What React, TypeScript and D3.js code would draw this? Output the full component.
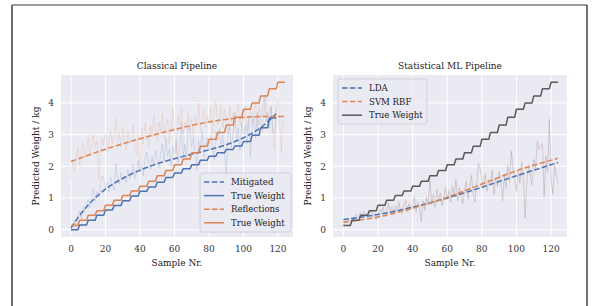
import React from 'react';
import * as d3 from 'd3';

// x tick labels and y tick labels shared by both panels
const xTicks = [0, 20, 40, 60, 80, 100, 120];
const yTicks = [0, 1, 2, 3, 4];

// true weight staircases, one level per block of 5 samples
const blueTrueLevels = [0, 0.15, 0.3, 0.46, 0.62, 0.76, 0.91, 1.06, 1.21, 1.35, 1.5, 1.65, 1.79, 1.92, 2.05, 2.19, 2.32, 2.43, 2.53, 2.64, 2.78, 2.98, 3.22, 3.52];
const orangeTrueLevels = [0.13, 0.3, 0.46, 0.6, 0.77, 0.93, 1.08, 1.22, 1.37, 1.53, 1.7, 1.87, 2.05, 2.23, 2.43, 2.63, 2.85, 3.07, 3.3, 3.55, 3.8, 4.0, 4.22, 4.45, 4.65];

// raw predictions (faint lines)
const mitigatedRaw = [
  0.0, 0.15, 0.3, 0.1, 0.45, 0.6, 0.35, 0.7, 0.55, 0.8,
  0.95, 0.7, 1.05, 1.3, 0.9, 1.2, 1.0, 1.45, 1.7, 1.6,
  1.3, 1.5, 1.2, 1.65, 1.4, 1.25, 2.1, 1.6, 1.45, 1.8,
  1.55, 1.7, 1.5, 1.9, 1.6, 1.75, 2.05, 1.6, 1.85, 2.2,
  1.8, 2.0, 1.7, 2.3, 2.45, 2.1, 1.9, 2.3, 2.05, 2.5,
  2.2, 1.95, 2.4, 2.7, 2.15, 2.9, 2.3, 2.55, 2.0, 2.6,
  2.4, 2.8, 2.1, 2.5, 3.4, 2.3, 2.7, 2.2, 3.3, 3.1,
  2.6, 2.9, 2.4, 1.9, 2.8, 2.5, 3.1, 2.3, 2.7, 2.9,
  2.5, 3.0, 2.6, 2.2, 3.1, 2.8, 3.2, 2.7, 3.0, 2.4,
  1.7, 2.9, 3.3, 2.6, 3.1, 3.7, 2.8, 3.2, 2.5, 3.4,
  3.0, 3.3, 2.7, 3.5, 2.3, 3.2, 3.6, 2.9, 3.7, 3.3,
  3.5, 3.8, 4.2, 3.4, 3.7, 3.2, 3.9, 3.1, 3.0, 3.9,
];
const reflectionsRaw = [
  1.6, 2.2, 1.85, 2.3, 2.6, 2.05, 2.4, 2.75, 2.25, 2.5,
  2.9, 2.35, 2.75, 3.0, 2.6, 2.8, 1.55, 2.5, 2.9, 2.65,
  3.0, 2.45, 2.8, 3.1, 2.7, 2.95, 3.5, 2.75, 3.05, 2.6,
  3.2, 2.85, 2.5, 3.1, 2.7, 2.95, 3.3, 2.6, 2.4, 3.0,
  1.9, 3.2, 2.7, 3.4, 3.0, 2.6, 3.3, 2.9, 3.6, 3.1,
  2.8, 3.4, 3.05, 3.7, 2.9, 3.3, 3.5, 2.7, 3.2, 3.8,
  3.1, 2.4, 3.6, 3.3, 3.9, 3.0, 3.4, 3.2, 3.7, 3.1,
  3.5, 2.9, 3.6, 3.3, 4.0, 3.1, 3.5, 3.8, 3.2, 3.6,
  3.4, 3.9, 3.0, 3.7, 4.05, 3.3, 3.6, 3.9, 3.2, 3.8,
  3.5, 3.0, 3.9, 3.4, 3.7, 3.2, 3.6, 3.95, 3.3, 3.7,
  3.4, 3.9, 3.1, 3.6, 3.8, 3.3, 3.7, 4.0, 3.2, 3.9,
  3.5, 3.1, 3.8, 4.2, 3.4, 3.7, 3.9, 3.0, 2.5, 3.6,
  4.15, 3.3, 2.45, 3.5, 3.6,
];
const ldaRaw = [
  0.15, 0.3, 0.2, 0.35, 0.25, 0.4, 0.3, 0.5, 0.35, 0.45,
  0.55, 0.4, 0.6, 0.45, 0.35, 0.5, 0.6, 0.4, 0.55, 0.3,
  0.45, 0.65, 0.5, 0.7, 0.4, 0.55, 0.85, 0.5, 0.7, 0.45,
  0.75, 0.55, 0.85, 0.6, 0.5, 0.75, 0.9, 0.55, 0.8, 0.65,
  0.7, 1.05, 0.55, 0.85, 0.7, 0.25, 0.9, 0.6, 1.0, 0.75,
  1.6, 0.8, 1.1, 0.7, 1.25, 0.9, 1.15, 0.75, 1.0, 1.3,
  0.95, 1.2, 0.85, 1.35, 1.05, 1.55, 0.9, 1.3, 1.1, 0.8,
  1.25, 1.5, 0.95, 1.3, 1.7, 1.1, 0.85, 1.4, 2.1, 1.9,
  1.6, 1.3, 1.75, 1.2, 1.55, 1.4, 1.85, 1.1, 1.6, 1.35,
  1.8, 1.5, 0.9, 1.7, 1.3, 2.0, 1.5, 2.5, 1.9, 1.6,
  1.2, 1.8, 1.45, 2.1, 1.6, 0.35, 1.5, 2.0, 1.7, 1.4,
  2.2, 1.9, 2.8, 2.5, 2.6, 2.7, 1.0, 2.3, 1.8, 3.5,
  1.6, 1.1, 2.0, 1.7, 1.45,
];
const svmRaw = [
  0.1, 0.25, 0.22, 0.3, 0.3, 0.35, 0.35, 0.45, 0.4, 0.5,
  0.5, 0.45, 0.55, 0.5, 0.4, 0.45, 0.65, 0.45, 0.5, 0.35,
  0.5, 0.6, 0.55, 0.75, 0.45, 0.6, 0.8, 0.55, 0.75, 0.5,
  0.7, 0.6, 0.9, 0.65, 0.55, 0.8, 0.95, 0.6, 0.85, 0.7,
  0.75, 1.0, 0.6, 0.9, 0.75, 0.3, 0.95, 0.65, 1.05, 0.8,
  1.55, 0.85, 1.15, 0.75, 1.3, 0.95, 1.2, 0.8, 1.05, 1.35,
  1.0, 1.25, 0.9, 1.4, 1.1, 1.6, 0.95, 1.35, 1.15, 0.85,
  1.3, 1.55, 1.0, 1.35, 1.75, 1.15, 0.9, 1.45, 2.05, 1.95,
  1.65, 1.35, 1.8, 1.25, 1.6, 1.45, 1.9, 1.15, 1.65, 1.4,
  1.85, 1.55, 0.95, 1.75, 1.35, 2.05, 1.55, 2.45, 1.95, 1.65,
  1.25, 1.85, 1.5, 2.15, 1.65, 0.4, 1.55, 2.05, 1.75, 1.45,
  2.25, 1.95, 2.75, 2.55, 2.65, 2.75, 1.1, 2.35, 1.85, 3.45,
  1.65, 1.15, 2.05, 1.75, 1.5,
];

// fitted trends (dashed), given at sample positions
const mitigatedFitX = [0, 5, 10, 20, 30, 40, 50, 60, 70, 80, 90, 100, 110, 119];
const mitigatedFit = [0.05, 0.45, 0.78, 1.28, 1.62, 1.88, 2.08, 2.24, 2.38, 2.52, 2.68, 2.9, 3.22, 3.66];
const reflectionsFitX = [0, 10, 20, 30, 40, 50, 60, 70, 80, 90, 100, 110, 124];
const reflectionsFit = [2.15, 2.35, 2.54, 2.71, 2.87, 3.02, 3.16, 3.29, 3.4, 3.48, 3.54, 3.57, 3.57];
const mlFitX = [0, 20, 40, 60, 80, 100, 124];
const ldaFit = [0.32, 0.48, 0.71, 1.0, 1.34, 1.7, 2.12];
const svmFit = [0.24, 0.4, 0.68, 1.02, 1.44, 1.86, 2.25];

const BLUE = '#4c72b0';
const ORANGE = '#dd8452';
const GRAY = '#595959';
const FONT = "'DejaVu Serif', 'Liberation Serif', serif";

const expand = (levels: number[]) => levels.flatMap(v => [v, v, v, v, v]);
const pts = (ys: number[]) => ys.map((y, i) => [i, y] as [number, number]);
const zipPts = (xs: number[], ys: number[]) => xs.map((x, i) => [x, ys[i]] as [number, number]);

type Series = {
  points: [number, number][];
  color: string;
  dashed?: boolean;
  faint?: boolean;
  smooth?: boolean;
};

type LegendItem = { label: string; color: string; dashed?: boolean };

const Panel = ({ left, right, title, xDomain, series, legend, legendBox }: {
  left: number; right: number; title: string; xDomain: [number, number];
  series: Series[]; legend: LegendItem[]; legendBox: { x: number; y: number; w: number; h: number };
}) => {
  const top = 75;
  const bottom = 237;
  const x = d3.scaleLinear().domain(xDomain).range([left, right]);
  const y = d3.scaleLinear().domain([-0.23, 4.88]).range([bottom, top]);

  return (
    <g>
      <rect x={left} y={top} width={right - left} height={bottom - top} fill="#eaeaf2" />
      {xTicks.map(t => (
        <line key={'gx' + t} x1={x(t)} x2={x(t)} y1={top} y2={bottom} stroke="#fff" strokeWidth={1} />
      ))}
      {yTicks.map(t => (
        <line key={'gy' + t} x1={left} x2={right} y1={y(t)} y2={y(t)} stroke="#fff" strokeWidth={1} />
      ))}
      {series.map((s, i) => {
        const gen = d3.line<[number, number]>().x(d => x(d[0])).y(d => y(d[1]));
        if (s.smooth) gen.curve(d3.curveMonotoneX);
        return (
          <path key={i} d={gen(s.points) || ''} fill="none" stroke={s.color}
            strokeWidth={s.faint ? 1 : 1.5}
            strokeOpacity={s.faint ? 0.17 : 1}
            strokeDasharray={s.dashed ? '5.5,2.4' : undefined}
            strokeLinejoin="round" />
        );
      })}
      {xTicks.map(t => (
        <text key={'tx' + t} x={x(t)} y={252} textAnchor="middle" fontSize={9} fill="#333">{t}</text>
      ))}
      {yTicks.map(t => (
        <text key={'ty' + t} x={left - 7} y={y(t) + 3.3} textAnchor="end" fontSize={9} fill="#333">{t}</text>
      ))}
      <text x={(left + right) / 2} y={69} textAnchor="middle" fontSize={9} fill="#222">{title}</text>
      <text x={(left + right) / 2} y={266} textAnchor="middle" fontSize={9} fill="#222">Sample Nr.</text>
      <text transform={`translate(${left - 22},${(top + bottom) / 2}) rotate(-90)`} textAnchor="middle"
        fontSize={9} fill="#222">Predicted Weight / kg</text>
      <rect x={legendBox.x} y={legendBox.y} width={legendBox.w} height={legendBox.h} rx={2.5}
        fill="#eaeaf2" fillOpacity={0.8} stroke="#cccccc" strokeWidth={0.8} />
      {legend.map((l, i) => {
        const ly = legendBox.y + 9 + i * 13.6;
        return (
          <g key={l.label + i}>
            <line x1={legendBox.x + 4} x2={legendBox.x + 24} y1={ly} y2={ly} stroke={l.color} strokeWidth={1.5}
              strokeDasharray={l.dashed ? '5.5,2.4' : undefined} />
            <text x={legendBox.x + 31} y={ly + 3.2} fontSize={8.6} fill="#222">{l.label}</text>
          </g>
        );
      })}
    </g>
  );
};

export default function App() {
  const blueTrue = expand(blueTrueLevels);
  const orangeTrue = expand(orangeTrueLevels);

  const leftSeries: Series[] = [
    { points: pts(mitigatedRaw), color: BLUE, faint: true },
    { points: pts(reflectionsRaw), color: ORANGE, faint: true },
    { points: zipPts(mitigatedFitX, mitigatedFit), color: BLUE, dashed: true, smooth: true },
    { points: pts(blueTrue), color: BLUE },
    { points: zipPts(reflectionsFitX, reflectionsFit), color: ORANGE, dashed: true, smooth: true },
    { points: pts(orangeTrue), color: ORANGE },
  ];
  const rightSeries: Series[] = [
    { points: pts(ldaRaw), color: BLUE, faint: true },
    { points: pts(svmRaw), color: ORANGE, faint: true },
    { points: zipPts(mlFitX, ldaFit), color: BLUE, dashed: true, smooth: true },
    { points: zipPts(mlFitX, svmFit), color: ORANGE, dashed: true, smooth: true },
    { points: pts(orangeTrue), color: GRAY },
  ];

  return (
    <svg width={594} height={306} style={{ position: 'absolute', left: 0, top: 0, background: '#fff', fontFamily: FONT }}>
      <rect x={0} y={0} width={594} height={306} fill="#fff" />
      <line x1={12} x2={12} y1={5} y2={306} stroke="#6e6e6e" strokeWidth={2} />
      <line x1={12} x2={587} y1={5} y2={5} stroke="#7a7a7a" strokeWidth={1.5} />
      <line x1={587} x2={587} y1={5} y2={306} stroke="#111" strokeWidth={1.2} />
      <Panel left={61} right={293} title="Classical Pipeline" xDomain={[-5.8, 128.7]}
        series={leftSeries}
        legend={[
          { label: 'Mitigated', color: BLUE, dashed: true },
          { label: 'True Weight', color: BLUE },
          { label: 'Reflections', color: ORANGE, dashed: true },
          { label: 'True Weight', color: ORANGE },
        ]}
        legendBox={{ x: 200, y: 173, w: 91, h: 59 }} />
      <Panel left={333} right={567} title="Statistical ML Pipeline" xDomain={[-6, 129.2]}
        series={rightSeries}
        legend={[
          { label: 'LDA', color: BLUE, dashed: true },
          { label: 'SVM RBF', color: ORANGE, dashed: true },
          { label: 'True Weight', color: GRAY },
        ]}
        legendBox={{ x: 338, y: 79, w: 89, h: 45 }} />
    </svg>
  );
}
